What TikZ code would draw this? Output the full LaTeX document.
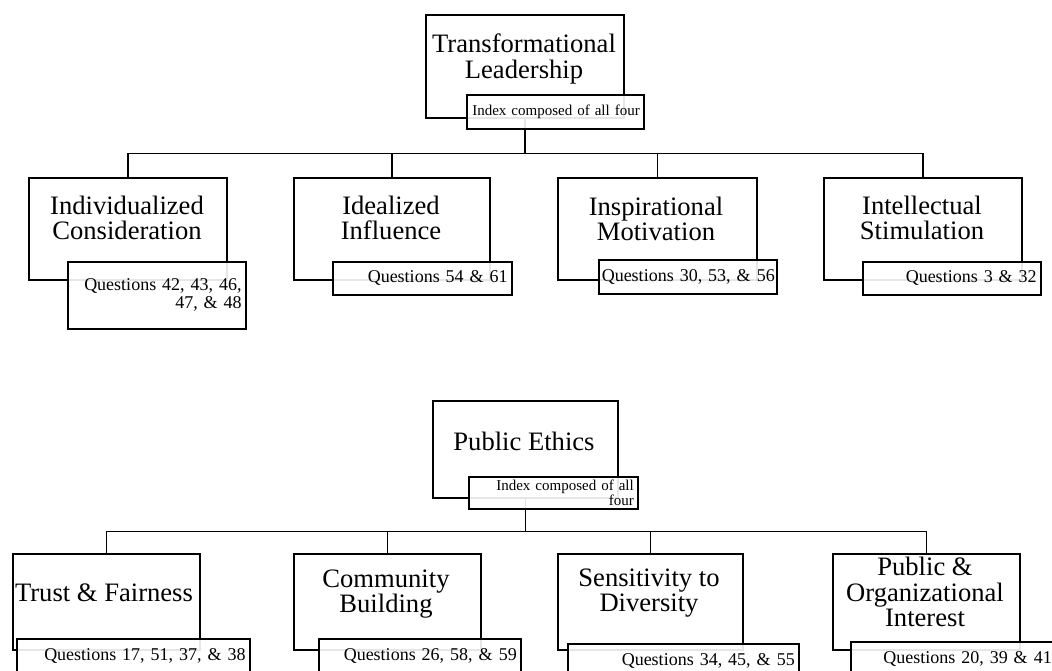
\documentclass[tikz,border=0pt]{standalone}
\usepackage{fontspec}
\setmainfont{Liberation Serif}
\usetikzlibrary{calc}

\tikzset{every picture/.style={line width=1.5pt}}
\tikzset{
	topicbox/.style={draw, fill=white, anchor=north west, inner sep=0pt},
	topictext/.style={align=center, inner sep=0pt, font=\fontsize{26.6}{25.5}\selectfont},
	qbox/.style={draw, fill=white, fill opacity=0.9, text opacity=1, anchor=north west,
		align=right, inner xsep=4pt, inner ysep=0pt, font=\fontsize{18}{18}\selectfont},
	ibox/.style={qbox, font=\fontsize{15}{15}\selectfont}}

\begin{document}
\begin{tikzpicture}[x=1pt,y=1pt,yscale=-1,xscale=1]
	\clip (0,0) rectangle (1052,670);

	%Shape: Rectangle (Transformational Leadership)
	\node[topicbox, minimum width=198pt, minimum height=103pt] (tl) at (425,14) {};
	%Shape: Rectangle
	\node[topicbox, minimum width=198pt, minimum height=102pt] (ic) at (28,177) {};
	%Shape: Rectangle
	\node[topicbox, minimum width=196pt, minimum height=102pt] (ii) at (293,177) {};
	%Shape: Rectangle
	\node[topicbox, minimum width=199pt, minimum height=102pt] (im) at (557,177) {};
	%Shape: Rectangle
	\node[topicbox, minimum width=198pt, minimum height=102pt] (is) at (823,177) {};

	%Shape: Rectangle (Public Ethics)
	\node[topicbox, minimum width=185pt, minimum height=97pt] (pe) at (432,400) {};
	%Shape: Rectangle
	\node[topicbox, minimum width=187pt, minimum height=96pt] (tf) at (12,553) {};
	%Shape: Rectangle
	\node[topicbox, minimum width=187pt, minimum height=96pt] (cb) at (293,553) {};
	%Shape: Rectangle
	\node[topicbox, minimum width=185pt, minimum height=96pt] (sd) at (557,553) {};
	%Shape: Rectangle
	\node[topicbox, minimum width=187pt, minimum height=96pt] (po) at (832,553) {};

	%Connectors
	\coordinate (tbus) at ($(tl.south)+(0,35)$);
	\coordinate (bbus) at ($(pe.south)+(0,33)$);
	\draw (tl.south) -- (tbus);
	\draw (ic.north) |- (tbus);
	\draw (ii.north) |- (tbus);
	\draw (im.north) |- (tbus);
	\draw (is.north) |- (tbus);
	\draw (pe.south) -- (bbus);
	\draw (tf.north) |- (bbus);
	\draw (cb.north) |- (bbus);
	\draw (sd.north) |- (bbus);
	\draw (po.north) |- (bbus);

	% Text Node
	\node[topictext] (tl-t) at (524,59) {Transformational\\Leadership};
	% Text Node
	\node[topictext] (ic-t) at (127,218) {Individualized\\Consideration};
	% Text Node
	\node[topictext] (ii-t) at (391,218) {Idealized\\Influence};
	% Text Node
	\node[topictext] (im-t) at (656,219) {Inspirational\\Motivation};
	% Text Node
	\node[topictext] (is-t) at (922,218) {Intellectual\\Stimulation};
	% Text Node
	\node[topictext] (pe-t) at (524,441) {Public Ethics};
	% Text Node
	\node[topictext] (tf-t) at (104,593) {Trust \& Fairness};
	% Text Node
	\node[topictext] (cb-t) at (386,594) {Community\\Building};
	% Text Node
	\node[topictext] (sd-t) at (649,593) {Sensitivity to\\Diversity};
	% Text Node
	\node[topictext] (po-t) at (925,592) {Public \&\\Organizational\\Interest};

	%Question boxes
	\node[ibox, text width=169pt, minimum height=34pt] (tl-q) at (466,94) {Index composed of all four};
	\node[qbox, text width=170pt, minimum height=67pt] (ic-q) at (67,261) {Questions 42, 43, 46,\\47, \& 48};
	\node[qbox, text width=171pt, minimum height=33pt] (ii-q) at (332,261) {Questions 54 \& 61};
	\node[qbox, text width=174pt, inner xsep=2pt, minimum height=34pt] (im-q) at (598,259) {Questions 30, 53, \& 56};
	\node[qbox, text width=170pt, minimum height=33pt] (is-q) at (862,261) {Questions 3 \& 32};

	\node[ibox, text width=161pt, minimum height=32pt] (pe-q) at (468,476) {Index composed of all\\four};
	\node[qbox, text width=225pt, minimum height=34pt] (tf-q) at (16,638) {Questions 17, 51, 37, \& 38};
	\node[qbox, text width=194pt, minimum height=34pt] (cb-q) at (318,638) {Questions 26, 58, \& 59};
	\node[qbox, text width=223pt, minimum height=34pt] (sd-q) at (567,643) {Questions 34, 45, \& 55};
	\node[qbox, text width=197pt, minimum height=34pt] (po-q) at (850,641) {Questions 20, 39 \& 41};

\end{tikzpicture}
\end{document}
